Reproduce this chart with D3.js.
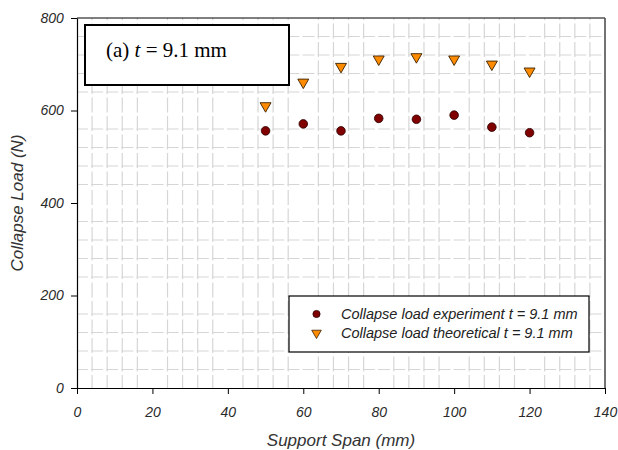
<!DOCTYPE html>
<html><head><meta charset="utf-8">
<script src="https://cdn.jsdelivr.net/npm/d3@7/dist/d3.min.js"></script>
<style>body{margin:0;background:#fff}svg{display:block}</style>
</head><body>
<script>
const spans = [50, 60, 70, 80, 90, 100, 110, 120];
const experiment = [556, 571, 556, 583, 581, 590, 564, 552];
const theoretical = [610, 661, 695, 711, 716, 711, 700, 685];
const xTicks = [0, 20, 40, 60, 80, 100, 120, 140];
const yTicks = [0, 200, 400, 600, 800];
const legendLabels = ["Collapse load experiment t = 9.1 mm", "Collapse load theoretical t = 9.1 mm"];

const W = 618, H = 450;
const m = {left: 77, right: 13, top: 18, bottom: 62};
const svg = d3.select("body").append("svg").attr("width", W).attr("height", H);
const x = d3.scaleLinear().domain([0, 140]).range([m.left, W - m.right]);
const y = d3.scaleLinear().domain([0, 800]).range([H - m.bottom, m.top]);

// minor grid
const xMinor = d3.range(0, 141, 4).filter(v => v % 20 !== 0);
const yMinor = d3.range(0, 801, 40).filter(v => v % 200 !== 0);
const grid = svg.append("g").attr("stroke", "#d6d6d6").attr("stroke-width", 1.2);
grid.selectAll(".gv").data(xMinor).join("line")
  .attr("x1", d => x(d)).attr("x2", d => x(d))
  .attr("y1", y(0)).attr("y2", y(800))
  .attr("stroke-dasharray", "15,3.5").attr("stroke-dashoffset", 2);
grid.selectAll(".gh").data(yMinor).join("line")
  .attr("y1", d => y(d)).attr("y2", d => y(d))
  .attr("x1", x(0)).attr("x2", x(140))
  .attr("stroke-dasharray", "12,3.1").attr("stroke-dashoffset", 1);

// frame
svg.append("line").attr("x1", x(0)).attr("x2", x(140)).attr("y1", y(800)).attr("y2", y(800)).attr("stroke", "#000");
svg.append("line").attr("x1", x(140)).attr("x2", x(140)).attr("y1", y(800)).attr("y2", y(0)).attr("stroke", "#444").attr("stroke-width", 1.5);

// axes
const fontTick = "italic 14px 'Liberation Sans', Arial, sans-serif";
const xAxis = svg.append("g").attr("transform", `translate(0,${y(0)})`)
  .call(d3.axisBottom(x).tickValues(xTicks).tickSize(6).tickSizeOuter(0).tickFormat(d3.format("d")));
const yAxis = svg.append("g").attr("transform", `translate(${x(0)},0)`)
  .call(d3.axisLeft(y).tickValues(yTicks).tickSize(6).tickSizeOuter(0).tickFormat(d3.format("d")));
[xAxis, yAxis].forEach(a => {
  a.select(".domain").attr("stroke", "#000").attr("stroke-width", 1.2);
  a.selectAll(".tick line").attr("stroke", "#000");
  a.selectAll("text").style("font", fontTick).attr("fill", "#2a2a2a");
});
xAxis.selectAll("text").attr("dy", "1.45em");
yAxis.selectAll("text").attr("dx", "-0.3em");

// axis titles
const fontTitle = "italic 17px 'Liberation Sans', Arial, sans-serif";
svg.append("text").attr("x", (x(0) + x(140)) / 2).attr("y", 446).attr("text-anchor", "middle")
  .style("font", fontTitle).attr("fill", "#333").text("Support Span (mm)");
svg.append("text").attr("transform", `translate(23,${(y(0)+y(800))/2}) rotate(-90)`).attr("text-anchor", "middle")
  .style("font", fontTitle).attr("fill", "#333").text("Collapse Load (N)");

// data markers
const tri = d3.symbol().type(d3.symbolTriangle).size(52);
svg.append("g").selectAll("path").data(spans).join("path")
  .attr("d", tri)
  .attr("transform", (d, i) => `translate(${x(d)},${y(theoretical[i])}) rotate(180)`)
  .attr("fill", "#ff8c00").attr("stroke", "#3a2000").attr("stroke-width", 0.9);
svg.append("g").selectAll("circle").data(spans).join("circle")
  .attr("cx", d => x(d)).attr("cy", (d, i) => y(experiment[i])).attr("r", 4.3)
  .attr("fill", "#800000").attr("stroke", "#2a0000").attr("stroke-width", 0.8);

// title box
svg.append("rect").attr("x", 85).attr("y", 25).attr("width", 204).attr("height", 60)
  .attr("fill", "#fff").attr("stroke", "#000").attr("stroke-width", 2);
const tt = svg.append("text").attr("x", 106).attr("y", 57)
  .style("font", "21px 'Liberation Serif', 'Times New Roman', serif").attr("fill", "#000");
tt.append("tspan").text("(a) ");
tt.append("tspan").attr("font-style", "italic").text("t");
tt.append("tspan").text(" = 9.1 mm");

// legend
const lg = svg.append("g");
lg.append("rect").attr("x", 289).attr("y", 296).attr("width", 300).attr("height", 56)
  .attr("fill", "#fff").attr("stroke", "#000").attr("stroke-width", 1.2);
lg.append("circle").attr("cx", 316.5).attr("cy", 314).attr("r", 3.6)
  .attr("fill", "#800000").attr("stroke", "#2a0000").attr("stroke-width", 0.8);
lg.append("path").attr("d", d3.symbol().type(d3.symbolTriangle).size(40))
  .attr("transform", "translate(316.5,333) rotate(180)")
  .attr("fill", "#ff8c00").attr("stroke", "#3a2000").attr("stroke-width", 0.8);
lg.selectAll(".lt").data(legendLabels).join("text")
  .attr("x", 341).attr("y", (d, i) => 319 + i * 19)
  .style("font", "italic 14.5px 'Liberation Sans', Arial, sans-serif").attr("fill", "#222")
  .text(d => d);
</script>
</body></html>
